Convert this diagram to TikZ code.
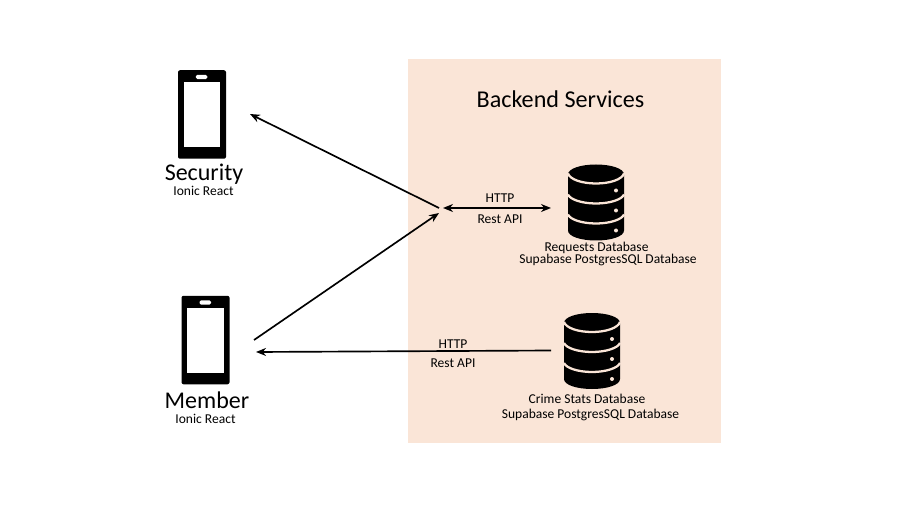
\documentclass[tikz,border=0pt]{standalone}
\usepackage{fontspec}
\setmainfont{Carlito}
\usetikzlibrary{arrows.meta}
\definecolor{peach}{HTML}{FAE5D7}
\newcommand{\pxfont}[1]{\fontsize{#1}{#1}\selectfont}
\tikzset{
  x=0.75pt,y=-0.75pt,
  panel/.style={fill=peach,draw=none,minimum width=313*0.75pt,minimum height=384*0.75pt,inner sep=0pt},
  phonebody/.style={fill=black,draw=none,rounded corners=1.5pt,minimum width=48*0.75pt,minimum height=88.5*0.75pt,inner sep=0pt},
  phonescreen/.style={fill=white,draw=none,minimum width=36.5*0.75pt,minimum height=64.5*0.75pt,inner sep=0pt},
  phonespeaker/.style={fill=white,draw=none,rounded corners=1.2pt,minimum width=11.5*0.75pt,minimum height=4.4*0.75pt,inner sep=0pt},
  bigtext/.style={inner sep=0pt,font=\pxfont{18}},
  title/.style={inner sep=0pt,font=\pxfont{18.1}},
  smalltext/.style={inner sep=0pt,font=\pxfont{10.15},align=center},
  conn/.style={draw=black,line width=1.25pt,-{Stealth[length=7.5pt,width=6pt]}},
  conntwo/.style={draw=black,line width=1.25pt,{Stealth[length=7.5pt,width=6pt]}-{Stealth[length=7.5pt,width=6pt]}},
  dbbody/.style={fill=black,draw=none},
  dbband/.style={draw=peach,line width=1.7pt,fill=none},
  dbdot/.style={fill=peach,draw=none},
}
\newcommand{\dbicon}[3]{%
  \begin{scope}[shift={(#1,#2)}]
    \path[dbbody] (0,10) .. controls (0,4) and (13,0) .. (28,0) .. controls (43,0) and (56,4) .. (56,10)
      -- (56,66) .. controls (56,72) and (43,76) .. (28,76) .. controls (13,76) and (0,72) .. (0,66) -- cycle;
    \path[dbband] (0,9) .. controls (2,15) and (14,19) .. (28,19) .. controls (42,19) and (54,15) .. (56,9);
    \path[dbband] (0,30) .. controls (2,35) and (14,39) .. (28,39) .. controls (42,39) and (54,35) .. (56,30);
    \path[dbband] (0,50) .. controls (2,55) and (14,59) .. (28,59) .. controls (42,59) and (54,55) .. (56,50);
    \path[dbdot] (48,26) circle (2);
    \path[dbdot] (48,46) circle (2);
    \path[dbdot] (48,66) circle (2);
    \coordinate (#3) at (28,38);
  \end{scope}}
\begin{document}
\begin{tikzpicture}
\useasboundingbox (0,0) rectangle (898,516);
\node[panel] (backend) at (564.5,251) {};
\node[title] (backendlabel) at (560.5,99.5) {Backend Services};
% phones
\node[phonebody] (security) at (202,114.5) {};
\node[phonescreen] (securityscreen) at (201.8,114.5) {};
\node[phonespeaker] (securityspeaker) at (201.6,77) {};
\node[bigtext] (securitylabel) at (204,174) {Security};
\node[smalltext] (securitysub) at (203.5,191) {Ionic React};
\node[phonebody] (member) at (205.5,340) {};
\node[phonescreen] (memberscreen) at (205.5,340.5) {};
\node[phonespeaker] (memberspeaker) at (205.3,302.5) {};
\node[bigtext] (memberlabel) at (207,400) {Member};
\node[smalltext] (membersub) at (205.5,418.5) {Ionic React};
% databases
\dbicon{568}{164.5}{dbone}
\dbicon{564}{313}{dbtwo}
\node[smalltext] (dbonename) at (596.5,248) {Requests Database};
\node[smalltext] (dbonetext) at (608,260) {Supabase PostgresSQL Database};
\node[smalltext] (dbtwoname) at (587,399) {Crime Stats Database};
\node[smalltext] (dbtwotext) at (590.5,415) {Supabase PostgresSQL Database};
% free ends
\coordinate (hub) at (439,208);
\coordinate (hubtwo) at (439,213);
\coordinate (securitytip) at (250,114);
\coordinate (memberstart) at (254,340);
\coordinate (apileft) at (443,208);
\coordinate (apiright) at (551,208);
\coordinate (dbtwostart) at (551,350.5);
\coordinate (membertip) at (256,352);
% connectors
\draw[conn] (hub) -- (securitytip);
\draw[conn] (memberstart) -- (hubtwo);
\draw[conntwo] (apileft) -- (apiright);
\draw[conn] (dbtwostart) -- (membertip);
% labels
\node[smalltext] (httpone) at (500,198) {HTTP};
\node[smalltext] (restone) at (500,219) {Rest API};
\node[smalltext] (httptwo) at (453,344) {HTTP};
\node[smalltext] (resttwo) at (453,363) {Rest API};
\end{tikzpicture}
\end{document}
